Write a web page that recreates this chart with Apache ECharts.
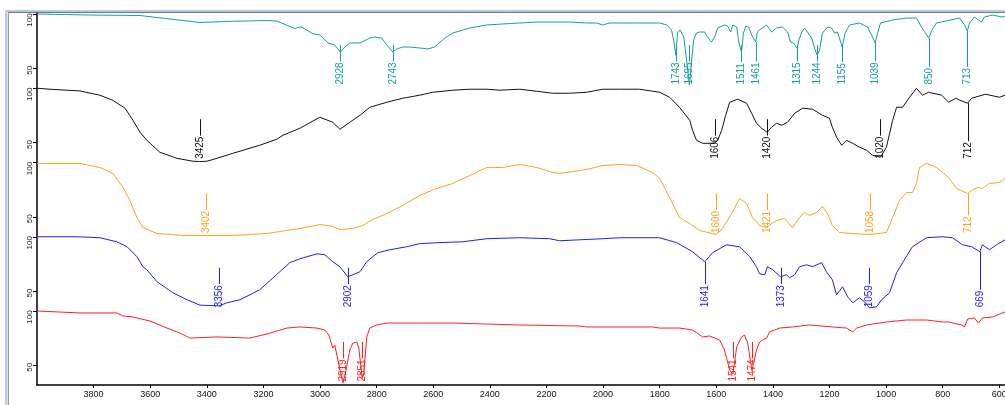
<!DOCTYPE html>
<html><head><meta charset="utf-8">
<script src="https://cdn.jsdelivr.net/npm/echarts@6/dist/echarts.min.js"></script>
<style>html,body{margin:0;padding:0;background:#fff;overflow:hidden}#c{width:1005px;height:405px}</style>
</head><body><div id="c"></div>
<script>
// ---- data: [wavenumber (cm-1), %T] ----
const tealSpectrum = [[4000,100],[3900,99.5],[3800,99],[3700,98.8],[3636,98.6],[3550,96],[3424,92.2],[3308,93.3],[3188,94],[3153,93.5],[3089,86.6],[3068,88.3],[3025,81.8],[3001,80.7],[2972,73.3],[2948,71.4],[2928,65],[2912,69.6],[2895,73.3],[2859,73.3],[2824,77.9],[2807,78.8],[2782,77.9],[2764,71.4],[2743,65],[2729,67.8],[2708,69.6],[2683,69.6],[2648,68.7],[2619,67.8],[2595,69.6],[2559,77.9],[2531,82.5],[2471,87.1],[2411,89.9],[2355,90.8],[2295,91.7],[2234,92.6],[2178,92.6],[2118,92.6],[2058,91.7],[2023,91.7],[2001,89.9],[1977,91.7],[1941,91.7],[1881,91.7],[1800,91.7],[1775,89.9],[1758,85.3],[1750,75],[1743,62],[1737,82.5],[1728,85.3],[1715,78.8],[1705,57.6],[1695,34.6],[1687,57.6],[1680,76.1],[1670,82.5],[1659,83.4],[1641,83.4],[1631,78.8],[1617,74.2],[1606,78.8],[1595,87.1],[1571,89.9],[1560,88.9],[1549,83.4],[1542,89.9],[1528,88],[1520,73.3],[1511,65],[1504,82.5],[1496,88.9],[1486,88],[1475,80.7],[1461,74.2],[1455,83.4],[1447,85.3],[1422,89.9],[1405,83.4],[1387,87.1],[1366,88],[1348,83.4],[1338,74.2],[1328,73.3],[1315,68.7],[1308,76.1],[1299,82.5],[1288,87.1],[1278,83.4],[1263,77.9],[1253,68.7],[1244,62.2],[1235,66.8],[1225,82.5],[1207,88],[1193,87.1],[1182,82.5],[1172,83.4],[1155,69.6],[1145,82.5],[1129,89.9],[1094,91.7],[1066,88],[1050,80],[1039,73.3],[1030,82.5],[1020,91.7],[978,94.5],[928,96.3],[893,96.3],[875,88],[850,77.9],[838,85.3],[822,91.7],[787,93.6],[740,96.3],[723,89.9],[713,84.4],[705,91.7],[688,97.2],[663,92.6],[653,97.2],[624,99],[589,97.2],[580,98]];
const blackSpectrum = [[4000,100],[3954,99.1],[3848,97.5],[3778,93.6],[3732,88.9],[3689,81.6],[3661,70.5],[3636,59.5],[3612,52.1],[3566,41.1],[3506,35.5],[3449,32.8],[3425,32.5],[3400,32.8],[3364,35.5],[3308,40.1],[3213,47.5],[3153,53],[3131,56.7],[3071,63.2],[3001,73.3],[2955,68.7],[2930,62.2],[2895,68.7],[2859,75.1],[2824,82.5],[2764,87.1],[2708,90.8],[2648,93.6],[2602,96.3],[2531,98.2],[2471,99.1],[2411,99.1],[2365,98.2],[2295,99.1],[2234,97.2],[2178,95.4],[2118,95.4],[2058,96.3],[2001,99.1],[1941,99.1],[1871,99.1],[1800,96.3],[1765,91.7],[1730,82.5],[1694,70.5],[1684,61.3],[1670,52.1],[1648,49.3],[1606,49.3],[1595,52.1],[1581,61.3],[1567,75],[1553,87],[1525,89.9],[1493,86.2],[1475,77],[1458,67.8],[1440,63.2],[1420,59.5],[1405,64.1],[1387,67.8],[1369,65.9],[1348,68.7],[1323,77],[1295,81.6],[1260,80.7],[1225,75.1],[1200,72.4],[1190,64.1],[1175,54.9],[1157,47.5],[1140,52.1],[1118,49.3],[1094,45.7],[1069,42.9],[1048,38.3],[1020,36.5],[999,45.7],[988,58],[977,70.5],[963,82.5],[942,82.5],[917,91.7],[893,100],[872,93.6],[850,96.3],[804,93.6],[779,87.1],[754,90.8],[740,89],[712,86.2],[698,90.8],[649,94.5],[600,91.7],[580,93.6]];
const orangeSpectrum = [[4000,99.1],[3848,99.1],[3778,95.4],[3732,89.9],[3696,77],[3672,65],[3647,49.3],[3626,40.1],[3576,34.6],[3484,32.8],[3402,32.8],[3308,32.8],[3188,34.6],[3071,39.2],[3001,42.9],[2955,41.1],[2930,38.3],[2884,39.2],[2849,42],[2814,47.5],[2764,53],[2708,60.4],[2648,69.6],[2588,76.1],[2531,80.7],[2471,88],[2411,95.4],[2355,95.4],[2295,98.2],[2234,95.4],[2178,90.8],[2153,89.9],[2107,91.7],[2058,93.6],[2001,97.2],[1941,98.2],[1881,97.2],[1825,90.8],[1800,85.3],[1765,67.8],[1730,49.3],[1694,43.8],[1659,37.4],[1600,33.7],[1578,39.2],[1546,53],[1518,66.8],[1493,62.2],[1472,49.3],[1447,42],[1421,40.1],[1405,43.8],[1387,46.6],[1359,48.4],[1331,40.1],[1306,49.3],[1288,53.9],[1271,51.2],[1246,53.9],[1225,59.5],[1207,53],[1190,42],[1165,35.5],[1119,34.6],[1058,33.7],[999,35.5],[977,49.3],[953,65],[928,72.4],[907,72.4],[893,80.7],[882,95.4],[857,99.1],[822,95.4],[779,86.2],[751,76.1],[712,71.4],[698,74.2],[677,77],[660,76.1],[635,80.7],[600,81.6],[580,85.3]];
const blueSpectrum = [[4000,100],[3859,100],[3778,99.1],[3718,95.4],[3682,90.8],[3647,81.6],[3626,72.4],[3612,69.6],[3576,58.6],[3520,48.4],[3470,42],[3424,37],[3356,36.4],[3329,39.2],[3283,42],[3213,51.2],[3142,67.8],[3107,76.1],[3071,79.7],[3011,84.3],[2983,83.4],[2955,77],[2930,72.4],[2902,63.2],[2884,65],[2859,67.8],[2835,77],[2796,85.3],[2754,88],[2694,90.8],[2648,93.6],[2588,94.5],[2496,95.4],[2411,98.2],[2295,99.1],[2189,98.2],[2153,96.3],[2083,97.2],[2001,98.2],[1941,99.1],[1800,99.1],[1740,94.5],[1684,86.2],[1641,77],[1613,85.3],[1564,92.6],[1518,90.8],[1482,81.6],[1458,72.4],[1447,65.9],[1429,65],[1419,72.4],[1401,69.6],[1373,63.2],[1352,65],[1341,62.2],[1323,65],[1306,72.4],[1281,74.2],[1260,72.4],[1228,76.1],[1211,67.8],[1190,60.4],[1175,46.6],[1154,53.9],[1136,44.7],[1118,39.2],[1094,43.8],[1076,40.1],[1059,34.6],[1034,35.5],[1016,42],[988,48.4],[963,66.8],[942,76.1],[907,90.8],[857,99.1],[801,100],[765,99.1],[730,92.6],[698,90.8],[669,86.2],[660,92.6],[635,88],[610,92.6],[580,97.2]];
const redSpectrum = [[4000,100],[3848,98.2],[3718,98.2],[3696,95.4],[3661,94.5],[3601,90.8],[3541,84.3],[3495,79.7],[3460,75.1],[3364,76.1],[3248,75.1],[3188,78.8],[3117,84.3],[3071,85.3],[3011,84.3],[2983,82.5],[2969,77.9],[2955,65.9],[2948,68.7],[2937,54.9],[2919,33.7],[2910,42.9],[2895,64.1],[2884,70.5],[2870,71.4],[2863,65.9],[2851,38],[2845,42.9],[2835,76.1],[2824,84.3],[2800,87.1],[2764,88.9],[2648,88.9],[2531,88.9],[2411,88],[2295,87.1],[2083,86.2],[2058,85.3],[1825,85.3],[1800,84.3],[1730,84.3],[1684,82.5],[1648,76.1],[1624,77],[1588,73.3],[1571,64.1],[1553,45.7],[1541,42],[1528,66.8],[1511,76.1],[1500,77.9],[1489,70.5],[1474,45],[1458,64.1],[1447,71.4],[1436,73.3],[1422,75.1],[1412,80.7],[1394,82.5],[1376,84.3],[1331,85.3],[1271,87.1],[1190,85.3],[1140,84.3],[1118,80.7],[1104,84.3],[1069,87.1],[999,89.9],[928,91.7],[857,91.7],[801,89.9],[779,89.9],[733,87.1],[723,85.3],[712,92.6],[688,93.6],[674,88.9],[660,93.6],[624,94.5],[580,99.1]];

const tealPeaks = [2928, 2743, 1743, 1695, 1511, 1461, 1315, 1244, 1155, 1039, 850, 713];
const blackPeaks = [3425, 1606, 1420, 1020, 712];
const orangePeaks = [3402, 1600, 1421, 1058, 712];
const bluePeaks = [3356, 2902, 1641, 1373, 1059, 669];
const redPeaks = [2919, 2851, 1541, 1474];

const xTickValues = [3800, 3600, 3400, 3200, 3000, 2800, 2600, 2400, 2200, 2000, 1800, 1600, 1400, 1200, 1000, 800, 600];
const yTickValues = [50, 100];

// ---- layout / style ----
const GRID_LEFT = 37, GRID_TOP = 13, AXIS_Y = 385, VIEW_W = 1005, VIEW_H = 405;
const PANEL_TOP0 = 14, PANEL_STEP = 74.25, PX_PER_UNIT = 1.086;
const LABEL_BASE = 35, LINE_TOP = 71.5;
const LABEL_FONT = '10px "Liberation Sans", Arial, sans-serif';

const panels = [
  { data: tealSpectrum, peaks: tealPeaks, color: '#17a09b' },
  { data: blackSpectrum, peaks: blackPeaks, color: '#111111' },
  { data: orangeSpectrum, peaks: orangePeaks, color: '#ffa31a' },
  { data: blueSpectrum, peaks: bluePeaks, color: '#1f1fef' },
  { data: redSpectrum, peaks: redPeaks, color: '#ff2020' }
];

function traceAt(data, wn) {
  for (let i = 0; i < data.length - 1; i++) {
    const a = data[i], b = data[i + 1];
    if (wn <= a[0] && wn >= b[0]) {
      const t = (a[0] - wn) / (a[0] - b[0] || 1);
      return a[1] + (b[1] - a[1]) * t;
    }
  }
  return data[data.length - 1][1];
}

const measureCtx = document.createElement('canvas').getContext('2d');
measureCtx.font = LABEL_FONT;

const yAxes = panels.map((p, k) => {
  const P = PANEL_TOP0 + PANEL_STEP * k;
  return {
    type: 'value',
    position: 'left',
    min: 100 - (AXIS_Y - P) / PX_PER_UNIT,
    max: 100 + (P - GRID_TOP) / PX_PER_UNIT,
    axisLine: { show: k === 0, onZero: false, lineStyle: { color: '#000', width: 1.5 } },
    axisTick: { show: true, customValues: yTickValues, length: 4, lineStyle: { color: '#000' } },
    axisLabel: {
      customValues: yTickValues, rotate: 90, fontSize: 8, color: '#222', margin: 3,
      fontFamily: '"Liberation Sans", Arial, sans-serif',
      formatter: v => v === 100 ? '{a|100}' : '{b|' + v + '}',
      rich: { a: { fontSize: 8, padding: [0, 12, 0, 0] }, b: { fontSize: 8, padding: [0, 4, 0, 0] } }
    },
    splitLine: { show: false }
  };
});

const series = [];
panels.forEach((p, k) => {
  series.push({
    type: 'line', yAxisIndex: k, data: p.data, showSymbol: false, symbol: 'none',
    lineStyle: { width: 1, color: p.color }, itemStyle: { color: p.color }, z: 2, silent: true
  });
});
panels.forEach((p, k) => {
  series.push({
    type: 'custom', yAxisIndex: k, z: 5, silent: true,
    data: p.peaks.map(wn => [wn, traceAt(p.data, wn)]),
    renderItem: (params, api) => {
      const wn = api.value(0), tv = api.value(1);
      const top = api.coord([wn, Math.max(tv, LINE_TOP)]);
      const base = api.coord([wn, LABEL_BASE]);
      const txt = String(wn);
      const len = measureCtx.measureText(txt).width;
      const textTop = base[1] - len - 1;
      const x = Math.round(base[0]) + 0.5;
      const children = [];
      if (top[1] < textTop - 0.5) {
        children.push({ type: 'line', shape: { x1: x, y1: top[1], x2: x, y2: textTop }, style: { stroke: p.color, lineWidth: 1 } });
      }
      children.push({
        type: 'text', x: x, y: base[1], rotation: Math.PI / 2,
        style: { text: txt, x: 0, y: 0, align: 'left', verticalAlign: 'middle', fill: p.color, font: LABEL_FONT }
      });
      return { type: 'group', children: children };
    }
  });
});

const chart = echarts.init(document.getElementById('c'), null, { renderer: 'canvas' });
chart.setOption({
  animation: false,
  backgroundColor: '#fff',
  grid: {
    left: GRID_LEFT, top: GRID_TOP, width: VIEW_W - GRID_LEFT, height: AXIS_Y - GRID_TOP,
    containLabel: false, outerBoundsMode: 'none'
  },
  xAxis: {
    type: 'value', inverse: true, min: 580, max: 4000,
    axisLine: { onZero: false, lineStyle: { color: '#000', width: 1.5 } },
    axisTick: { customValues: xTickValues, length: 3, lineStyle: { color: '#000' } },
    axisLabel: {
      customValues: xTickValues, fontSize: 9, color: '#111', margin: 5,
      fontFamily: '"Liberation Sans", Arial, sans-serif', formatter: v => String(v)
    },
    splitLine: { show: false }
  },
  yAxis: yAxes,
  series: series,
  graphic: [
    { type: 'rect', shape: { x: 5, y: 10, width: 1000, height: 2 }, style: { fill: '#b3cae2' }, silent: true },
    { type: 'rect', shape: { x: 5, y: 10, width: 2.5, height: 395 }, style: { fill: '#b3cae2' }, silent: true },
    { type: 'line', shape: { x1: 8, y1: 12.5, x2: 1005, y2: 12.5 }, style: { stroke: '#777', lineWidth: 1 }, silent: true },
    { type: 'line', shape: { x1: 8.5, y1: 12, x2: 8.5, y2: 405 }, style: { stroke: '#999', lineWidth: 1 }, silent: true }
  ]
});
</script></body></html>
